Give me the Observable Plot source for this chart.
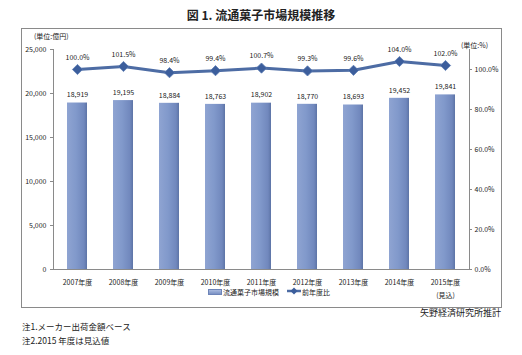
<!DOCTYPE html>
<html><head><meta charset="utf-8">
<script src="https://cdn.jsdelivr.net/npm/d3@7"></script>
<script src="https://cdn.jsdelivr.net/npm/@observablehq/plot@0.6"></script>
<style>
body{margin:0;background:#fff;font-family:"Noto Sans CJK JP","Noto Sans",sans-serif;color:#222;}
#wrap{position:relative;width:522px;height:355px;overflow:hidden;background:#fff;}
#title{position:absolute;left:0;width:522px;top:6px;text-align:center;font-size:12px;font-weight:bold;line-height:18px;}
#box{position:absolute;left:21px;top:28px;width:479px;height:278px;border:1px solid #8a8a8a;}
#chart{position:absolute;left:0;top:0;}
.unit{position:absolute;font-size:7px;line-height:9px;}
#legend{position:absolute;top:286px;left:8px;width:522px;text-align:center;font-size:7px;line-height:10px;}
#legend span{display:inline-block;vertical-align:middle;}
.note{position:absolute;font-size:8.5px;line-height:12px;}
</style></head><body><div id="wrap">
<div id="title">図 1. 流通菓子市場規模推移</div>
<div id="box"></div>
<div id="chart"></div>
<div class="unit" style="left:34px;top:32px;">(単位:億円)</div>
<div class="unit" style="left:461px;top:41px;">(単位:%)</div>
<div id="legend"></div>
<div class="note" style="right:21px;top:307px;font-size:9px;">矢野経済研究所推計</div>
<div class="note" style="left:22px;top:320px;">注1.メーカー出荷金額ベース</div>
<div class="note" style="left:22px;top:334px;">注2.2015 年度は見込値</div>
</div>
<script>
const years = ["2007年度","2008年度","2009年度","2010年度","2011年度","2012年度","2013年度","2014年度","2015年度\n(見込)"];
const marketSize = [18919,19195,18884,18763,18902,18770,18693,19452,19841];
const yoyRatio = [100.0,101.5,98.4,99.4,100.7,99.3,99.6,104.0,102.0];
const leftTicks = [0,5000,10000,15000,20000,25000];
const rightTicks = [0,20,40,60,80,100];
const seriesNames = ["流通菓子市場規模","前年度比"];

const leftMax = 25000, rightMax = 110;
const k = leftMax / rightMax;
const rows = years.map((y,i)=>({year:y, size:marketSize[i], ratio:yoyRatio[i], ry:yoyRatio[i]*k}));
const fmt = d3.format(",");

const plot = Plot.plot({
  width: 522, height: 310,
  marginLeft: 53, marginRight: 53, marginTop: 49, marginBottom: 41,
  style: {fontFamily: '"Noto Sans CJK JP","Noto Sans",sans-serif', fontSize: "7px", color: "#222", background: "transparent"},
  x: {type: "band", domain: years, padding: 0},
  y: {domain: [0, leftMax]},
  marks: [
    Plot.barY(rows, {x: "year", y: "size", fill: "url(#barGrad)", insetLeft: 13, insetRight: 13}),
    Plot.frame({anchor: "left", stroke: "#8a8a8a"}),
    Plot.frame({anchor: "right", stroke: "#8a8a8a"}),
    Plot.frame({anchor: "bottom", stroke: "#8a8a8a"}),
    Plot.axisY(leftTicks, {anchor: "left", tickFormat: d => fmt(d), tickSize: 3, tickPadding: 4, stroke: "#8a8a8a", label: null, fill: "#222"}),
    Plot.axisY(rightTicks.map(v => v*k), {anchor: "right", tickFormat: d => (d/k).toFixed(1) + "%", tickSize: 2, tickPadding: 3, stroke: "#8a8a8a", label: null, fill: "#222"}),
    Plot.axisX({tickSize: 0, tickPadding: 7, label: null, lineHeight: 1.8, fill: "#222"}),
    Plot.text(rows, {x: "year", y: "size", text: d => fmt(d.size), dy: -8, fontSize: 7, fill: "#222"}),
    Plot.line(rows, {x: "year", y: "ry", stroke: "#4d6ca4", strokeWidth: 3}),
    Plot.dot(rows, {x: "year", y: "ry", symbol: "diamond2", r: 4.6, fill: "#3c5e9c", stroke: "#5b7bb3", strokeWidth: 0.8}),
    Plot.text(rows, {x: "year", y: "ry", text: d => d.ratio.toFixed(1) + "%", dy: -12, fontSize: 7, fill: "#222"})
  ]
});

const svg = d3.select(plot);
const grad = svg.insert("defs", ":first-child").append("linearGradient").attr("id", "barGrad").attr("x1", "0").attr("x2", "1").attr("y1", "0").attr("y2", "0");
[["0%","#8fa4d2"],["45%","#8199cb"],["85%","#7188bd"],["100%","#5d74a6"]].forEach(([o,c]) => grad.append("stop").attr("offset", o).attr("stop-color", c));
document.getElementById("chart").appendChild(plot);

// legend
const lg = d3.select("#legend");
lg.append("span").style("width","12px").style("height","4px").style("background","linear-gradient(#a9badf,#7a91c4)").style("border","1px solid #6d84b8").style("margin-right","1px");
lg.append("span").text(seriesNames[0]).style("margin-right","8px");
const ls = lg.append("span").style("margin-right","1px").append("svg").attr("width",14).attr("height",10);
ls.append("line").attr("x1",0).attr("x2",14).attr("y1",5).attr("y2",5).attr("stroke","#4d6ca4").attr("stroke-width",2.5);
ls.append("path").attr("d","M7,1.5L10.5,5L7,8.5L3.5,5Z").attr("fill","#3c5e9c");
lg.append("span").text(seriesNames[1]);
</script>
</body></html>
